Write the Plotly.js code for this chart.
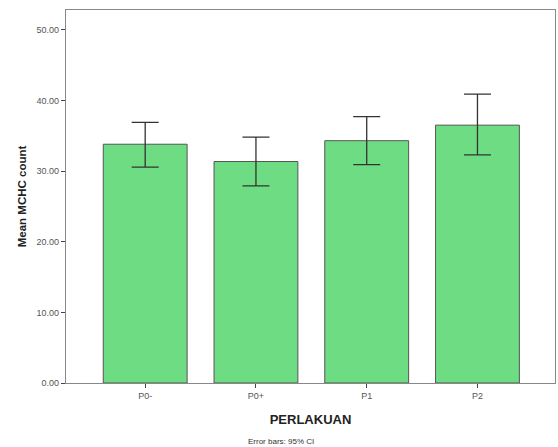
<!DOCTYPE html>
<html>
<head>
<meta charset="utf-8">
<script src="https://cdn.plot.ly/plotly-3.0.1.min.js"></script>
<style>html,body{margin:0;padding:0;background:#fff;}#chart{width:558px;height:447px;}</style>
</head>
<body>
<div id="chart"></div>
<script>
const categories = ["P0-", "P0+", "P1", "P2"];
const means = [33.8, 31.35, 34.3, 36.5];
const ciUpper = [36.9, 34.8, 37.7, 40.9];
const ciLower = [30.55, 27.9, 30.9, 32.3];
const yTicks = [0, 10, 20, 30, 40, 50];
const yTickLabels = ["0.00", "10.00", "20.00", "30.00", "40.00", "50.00"];

const plus = means.map((m, i) => ciUpper[i] - m);
const minus = means.map((m, i) => m - ciLower[i]);

const trace = {
  type: "bar",
  x: [0, 1, 2, 3],
  y: means,
  width: 0.757,
  marker: {color: "#6edc82", line: {color: "#555555", width: 1}},
  error_y: {type: "data", symmetric: false, array: plus, arrayminus: minus,
            color: "#333333", thickness: 1.3, width: 13.5},
  hoverinfo: "none"
};

const layout = {
  width: 558, height: 447,
  margin: {l: 66, r: 3, t: 10, b: 64},
  paper_bgcolor: "#ffffff", plot_bgcolor: "#ffffff",
  showlegend: false,
  font: {family: "Liberation Sans, Arial, sans-serif"},
  xaxis: {
    range: [-0.715, 3.7],
    tickmode: "array", tickvals: [0, 1, 2, 3], ticktext: categories,
    ticks: "outside", ticklen: 4, tickcolor: "#444", tickwidth: 1,
    tickfont: {size: 9, color: "#555"},
    showline: true, linecolor: "#888", linewidth: 1.2, mirror: true,
    showgrid: false, zeroline: false, fixedrange: true,
    title: {text: "<b>PERLAKUAN</b>", font: {size: 13, color: "#222"}, standoff: 14}
  },
  yaxis: {
    range: [0, 52.8],
    tickmode: "array", tickvals: yTicks, ticktext: yTickLabels,
    ticks: "outside", ticklen: 4, tickcolor: "#444", tickwidth: 1,
    tickfont: {size: 9, color: "#555"},
    showline: true, linecolor: "#888", linewidth: 1.2, mirror: true,
    showgrid: false, zeroline: false, fixedrange: true,
    title: {text: "<b>Mean MCHC count</b>", font: {size: 11.5, color: "#222"}, standoff: 7}
  },
  annotations: [{
    text: "Error bars: 95% CI", xref: "paper", yref: "paper",
    x: 0.44, y: 0, yshift: -58, xanchor: "center", yanchor: "middle",
    showarrow: false, font: {size: 8, color: "#333"}
  }]
};

Plotly.newPlot("chart", [trace], layout, {displayModeBar: false, staticPlot: true});
</script>
</body>
</html>
